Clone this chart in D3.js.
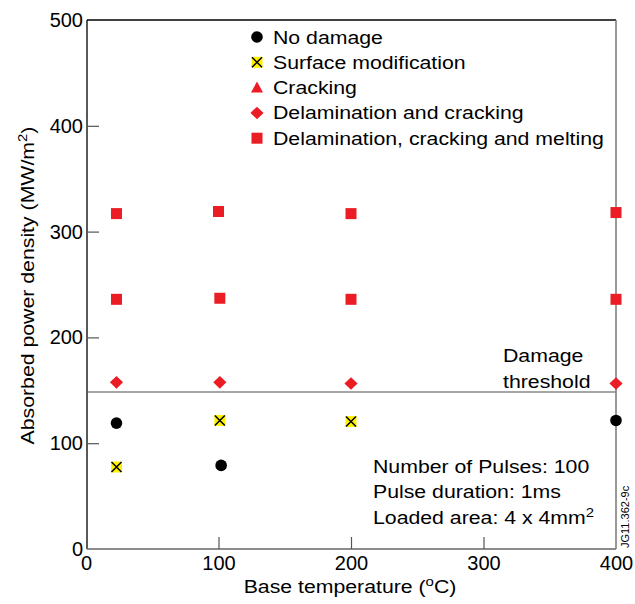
<!DOCTYPE html>
<html>
<head>
<meta charset="utf-8">
<script src="https://cdn.jsdelivr.net/npm/d3@7"></script>
<style>
  body { margin: 0; background: #fff; }
  text { font-family: "Liberation Sans", Arial, sans-serif; fill: #000; }
</style>
</head>
<body>
<div id="chart"></div>
<script>
// Data (base temperature, power density)
var noDamage = [[23, 119], [102, 79], [400, 121.5]];
var surfaceMod = [[23, 77.5], [101, 121.5], [200, 120.5]];
var delamCracking = [[23, 157.5], [101, 157.5], [200, 156.5], [400, 156.5]];
var delamCrackMelt = [[23, 317], [100, 319], [200, 317], [400, 318],
                      [23, 236], [101, 237], [200, 236], [400, 236]];
var threshold = 148.5;

var xTicks = [0, 100, 200, 300, 400];
var yTicks = [0, 100, 200, 300, 400, 500];

var legendItems = ["No damage", "Surface modification", "Cracking",
  "Delamination and cracking", "Delamination, cracking and melting"];
var legendShapes = ["circle", "cross", "triangle", "diamond", "square"];

var infoLines = ["Number of Pulses: 100", "Pulse duration: 1ms", "Loaded area: 4 x 4mm"];

var width = 635, height = 604;
var red = "#ec1c24";
var fs = 18.5, stretch = 1.15;

var svg = d3.select("#chart").append("svg")
  .attr("width", width)
  .attr("height", height);

var x = d3.scaleLinear().domain([0, 400]).range([86, 616]);
var y = d3.scaleLinear().domain([0, 500]).range([549, 20]);

// the original lettering is a bit wider than Liberation Sans, so stretch it
function label(parent, tx, ty, str, rot) {
  return parent.append("text")
    .attr("transform", "translate(" + tx + "," + ty + ")" + (rot ? " rotate(" + rot + ")" : "") + " scale(" + stretch + ",1)")
    .style("font-size", fs + "px")
    .text(str);
}

// frame: left/top black, bottom/right grey
svg.append("line").attr("x1", x(0) + 1).attr("x2", x(0) + 1).attr("y1", y(500)).attr("y2", y(0))
  .attr("stroke", "#222").attr("stroke-width", 1.5);
svg.append("line").attr("x1", x(0) + 1).attr("x2", x(400)).attr("y1", y(500)).attr("y2", y(500))
  .attr("stroke", "#000").attr("stroke-width", 1.5);
svg.append("line").attr("x1", x(0) + 1).attr("x2", x(400)).attr("y1", y(0)).attr("y2", y(0))
  .attr("stroke", "#666").attr("stroke-width", 1.5);
svg.append("line").attr("x1", x(400)).attr("x2", x(400)).attr("y1", y(500)).attr("y2", y(0))
  .attr("stroke", "#777").attr("stroke-width", 1.5);

// axes with inward ticks
var xAxis = svg.append("g")
  .attr("transform", "translate(0," + y(0) + ")")
  .call(d3.axisTop(x).tickValues(xTicks).tickSize(12).tickFormat(d3.format("d")));
xAxis.select(".domain").remove();
xAxis.selectAll(".tick line").attr("stroke", "#555").attr("stroke-width", 1.2)
  .filter(d => d == 0 || d == 400).remove();
xAxis.selectAll(".tick text").attr("y", 7).attr("dy", "0.71em")
  .style("font-size", "20px").style("font-family", "Liberation Sans, Arial, sans-serif");

var yAxis = svg.append("g")
  .attr("transform", "translate(" + (x(0) + 1) + ",0)")
  .call(d3.axisRight(y).tickValues(yTicks).tickSize(12));
yAxis.select(".domain").remove();
yAxis.selectAll(".tick line").attr("stroke", "#555").attr("stroke-width", 1.2)
  .filter(d => d == 0 || d == 500).remove();
yAxis.selectAll(".tick text").attr("x", -4).attr("text-anchor", "end")
  .style("font-size", "20px").style("font-family", "Liberation Sans, Arial, sans-serif");

// axis titles
var xt = label(svg, x(200) - 1, 593, "Base temperature (").attr("text-anchor", "middle");
xt.append("tspan").attr("dy", -7).style("font-size", "13px").text("o");
xt.append("tspan").attr("dy", 7).text("C)");

var yt = label(svg, 34, y(250) + 1, "Absorbed power density (MW/m", -90).attr("text-anchor", "middle");
yt.append("tspan").attr("dy", -7).style("font-size", "13px").text("2");
yt.append("tspan").attr("dy", 7).text(")");

// threshold line
svg.append("line")
  .attr("x1", x(0) + 2).attr("x2", x(400))
  .attr("y1", y(threshold)).attr("y2", y(threshold))
  .attr("stroke", "#888").attr("stroke-width", 1.5);

label(svg, 503, 362, "Damage");
label(svg, 503, 387.5, "threshold");

// marker drawing
function drawMarker(g, shape, cx, cy) {
  if (shape == "circle") {
    g.append("circle").attr("cx", cx).attr("cy", cy).attr("r", 5.8).attr("fill", "#000");
  } else if (shape == "square") {
    g.append("rect").attr("x", cx - 5.5).attr("y", cy - 5.5).attr("width", 11).attr("height", 11).attr("fill", red);
  } else if (shape == "diamond") {
    g.append("path").attr("d", d3.symbol(d3.symbolDiamond2, 100)()).attr("transform", "translate(" + cx + "," + cy + ") scale(1.05,1)")
      .attr("fill", red);
  } else if (shape == "triangle") {
    g.append("path").attr("d", "M" + cx + "," + (cy - 6) + "L" + (cx + 6) + "," + (cy + 5) + "L" + (cx - 6) + "," + (cy + 5) + "Z")
      .attr("fill", red);
  } else if (shape == "cross") {
    g.append("rect").attr("x", cx - 5.5).attr("y", cy - 5.5).attr("width", 11).attr("height", 11).attr("fill", "#fff200");
    g.append("path").attr("d", "M" + (cx - 5) + "," + (cy - 5) + "L" + (cx + 5) + "," + (cy + 5) + "M" + (cx + 5) + "," + (cy - 5) + "L" + (cx - 5) + "," + (cy + 5))
      .attr("stroke", "#000").attr("stroke-width", 1.5);
  }
}

var pts = svg.append("g");
delamCrackMelt.forEach(d => drawMarker(pts, "square", x(d[0]), y(d[1])));
delamCracking.forEach(d => drawMarker(pts, "diamond", x(d[0]), y(d[1])));
surfaceMod.forEach(d => drawMarker(pts, "cross", x(d[0]), y(d[1])));
noDamage.forEach(d => drawMarker(pts, "circle", x(d[0]), y(d[1])));

// legend
var lg = svg.append("g");
legendItems.forEach(function(name, i) {
  var cy = 37 + i * 25.3;
  drawMarker(lg, legendShapes[i], 257, cy);
  label(lg, 273, cy + 6.5, name);
});

// info block
infoLines.forEach(function(t, i) {
  var tx = label(svg, 373, 472.5 + i * 25.7, t);
  if (i == 2) tx.append("tspan").attr("dy", -7).style("font-size", "13px").text("2");
});

svg.append("text")
  .attr("transform", "translate(629,548) rotate(-90)")
  .style("font-size", "11px").text("JG11.362-9c");
</script>
</body>
</html>
